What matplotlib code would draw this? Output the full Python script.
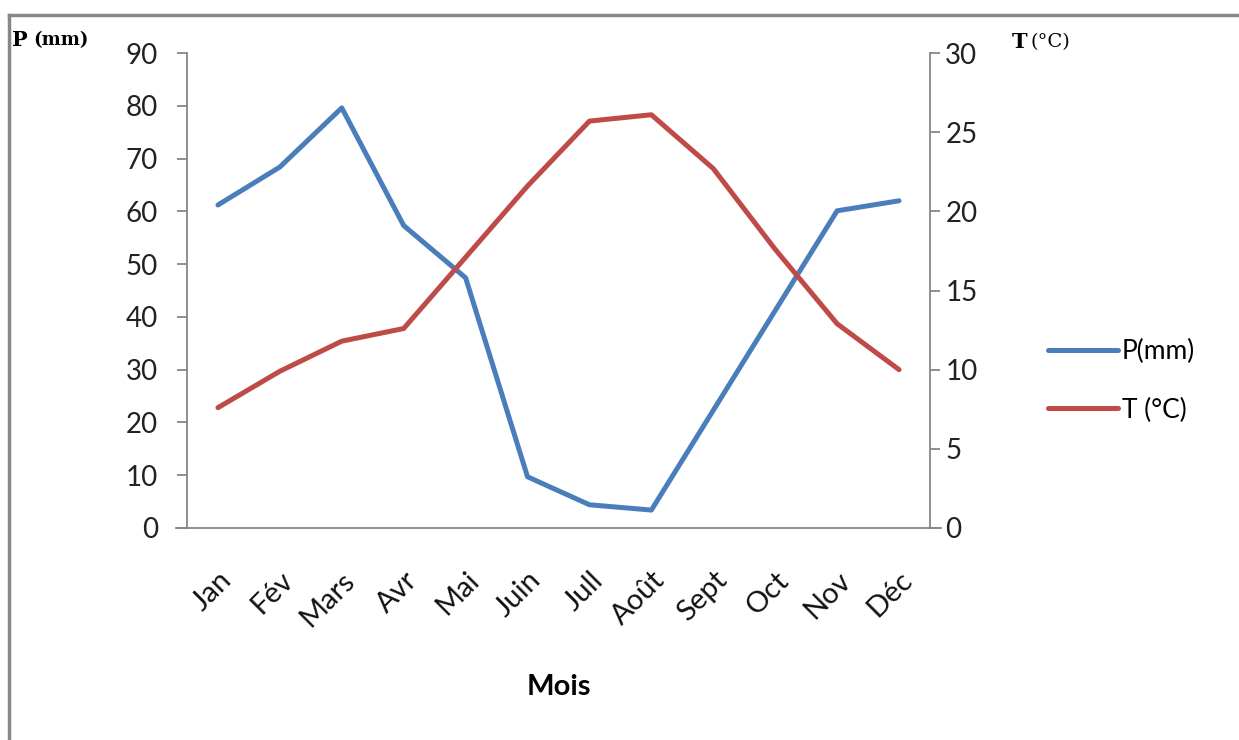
import matplotlib
matplotlib.use('Agg')
from matplotlib import pyplot as plt
from matplotlib.lines import Line2D

mois = ['Jan', 'Fév', 'Mars', 'Avr', 'Mai', 'Juin', 'Jull', 'Août', 'Sept', 'Oct', 'Nov', 'Déc']
p_mm = [61.2, 68.4, 79.6, 57.3, 47.4, 9.7, 4.4, 3.4, 22.3, 41.2, 60.1, 62.0]
t_c = [7.6, 9.9, 11.8, 12.6, 17.1, 21.6, 25.7, 26.1, 22.7, 17.6, 12.9, 10.0]

BLUE = '#4A7EBB'
RED = '#BE4B48'
GRAY = '#868686'

plt.rcParams['font.family'] = ['Lato', 'DejaVu Sans']

fig = plt.figure(figsize=(12.39, 7.40), dpi=100)
ax = fig.add_axes([187/1239, 1 - 528/740, (930 - 187)/1239, (528 - 53)/740])
ax2 = ax.twinx()

x = list(range(len(mois)))
l1, = ax.plot(x, p_mm, color=BLUE, lw=3.6, solid_capstyle='round', solid_joinstyle='round')
l2, = ax2.plot(x, t_c, color=RED, lw=3.6, solid_capstyle='round', solid_joinstyle='round')

ax.set_xlim(-0.5, 11.5)
ax.set_ylim(0, 90)
ax2.set_ylim(0, 30)
ax.set_yticks(range(0, 91, 10))
ax2.set_yticks(range(0, 31, 5))

for a in (ax, ax2):
    for s in a.spines.values():
        s.set_visible(False)
ax.spines['left'].set_visible(True)
ax.spines['left'].set_color(GRAY)
ax.spines['left'].set_linewidth(1.3)
ax2.spines['right'].set_visible(True)
ax2.spines['right'].set_color(GRAY)
ax2.spines['right'].set_linewidth(1.3)

# x axis line, extends under the tick marks on both sides
ax.add_line(Line2D([-0.015, 1.015], [0, 0], transform=ax.transAxes, color=GRAY,
                   lw=1.3, clip_on=False))

ax.tick_params(axis='y', direction='out', length=7, width=1.3, color=GRAY,
               labelsize=20, pad=14, labelcolor='#222222')
ax2.tick_params(axis='y', direction='out', length=7, width=1.3, color=GRAY,
                labelsize=20, pad=4, labelcolor='#222222')
ax.set_xticks(x)
ax.set_xticklabels(mois, rotation=45, ha='right', va='top', rotation_mode='anchor',
                   fontsize=21, color='#111111')
ax.tick_params(axis='x', length=0, pad=28)

ax.set_xlabel('Mois', fontsize=21, fontweight='bold', labelpad=31)

fig.text(12/1239, 1 - 40/740, 'P', fontsize=15, fontweight='bold', family='DejaVu Serif',
         va='center')
fig.text(33/1239, 1 - 40/740, '(mm)', fontsize=13, fontweight='bold', family='DejaVu Serif',
         va='center')
fig.text(1012/1239, 1 - 42/740, 'T', fontsize=15, fontweight='bold', family='DejaVu Serif',
         va='center')
fig.text(1030/1239, 1 - 42/740, '(°C)', fontsize=14, family='DejaVu Serif', va='center')

fig.legend([l1, l2], ['P(mm)', 'T (°C)'], loc='center left',
           bbox_to_anchor=(1024/1239, 1 - 381/740), frameon=False, fontsize=19,
           handlelength=2.65, handletextpad=0.15, labelspacing=1.25)

# frame of the picture
fig.add_artist(Line2D([9/1239, 1], [1 - 15/740, 1 - 15/740], color='#888888', lw=2.5))
fig.add_artist(Line2D([9/1239, 9/1239], [0, 1 - 15/740], color='#888888', lw=2.5))

plt.savefig('out.png', dpi=100)
